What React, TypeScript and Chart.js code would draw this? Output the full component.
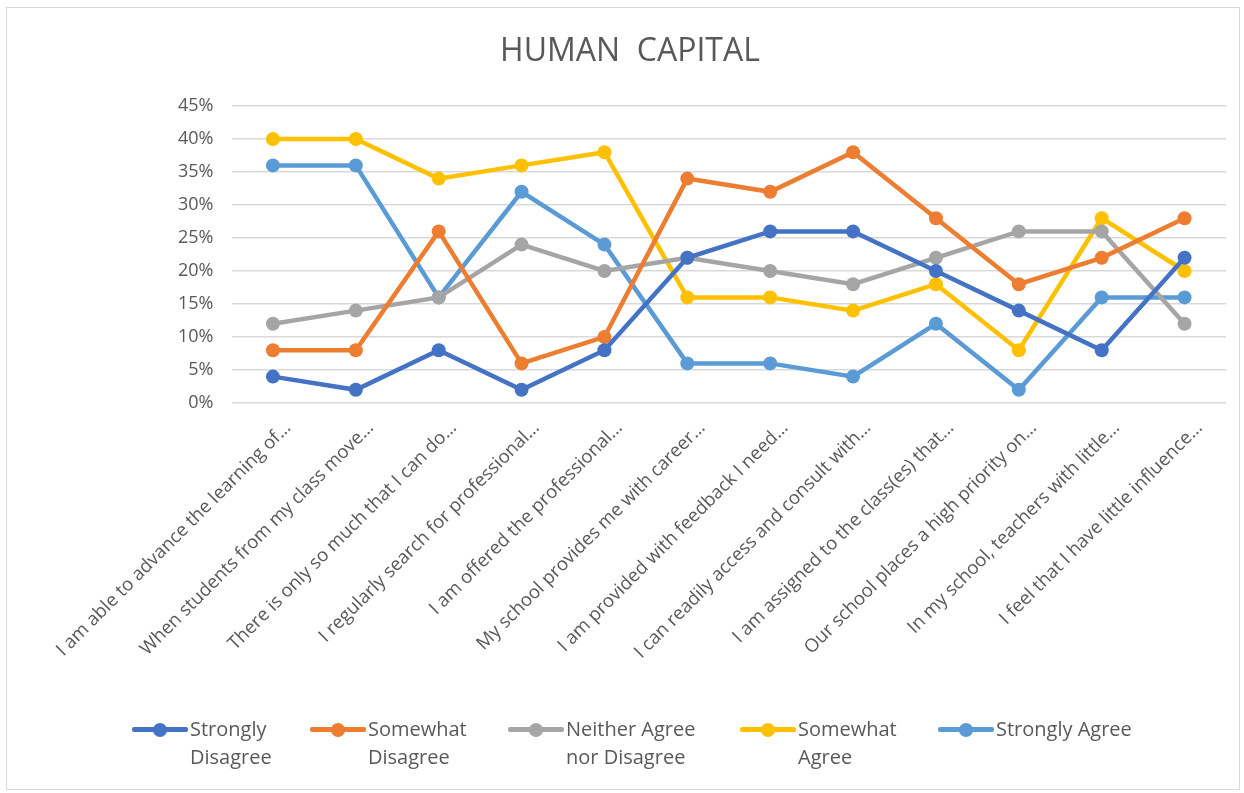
import React, { useEffect, useRef } from "react";
import { Chart, registerables } from "chart.js";

Chart.register(...registerables);

const TITLE = "HUMAN  CAPITAL";

const CATEGORIES = [
  "I am able to advance the learning of…",
  "When students from my class move…",
  "There is only so much that I can do…",
  "I regularly search for professional…",
  "I am offered the professional…",
  "My school provides me with career…",
  "I am provided with feedback I need…",
  "I can readily access and consult with…",
  "I am assigned to the class(es) that…",
  "Our school places a high priority on…",
  "In my school, teachers with little…",
  "I feel that I have little influence…",
];

const SERIES_NAMES = [
  "Strongly Disagree",
  "Somewhat Disagree",
  "Neither Agree nor Disagree",
  "Somewhat Agree",
  "Strongly Agree",
];

const STRONGLY_DISAGREE = [4, 2, 8, 2, 8, 22, 26, 26, 20, 14, 8, 22];
const SOMEWHAT_DISAGREE = [8, 8, 26, 6, 10, 34, 32, 38, 28, 18, 22, 28];
const NEITHER = [12, 14, 16, 24, 20, 22, 20, 18, 22, 26, 26, 12];
const SOMEWHAT_AGREE = [40, 40, 34, 36, 38, 16, 16, 14, 18, 8, 28, 20];
const STRONGLY_AGREE = [36, 36, 16, 32, 24, 6, 6, 4, 12, 2, 16, 16];

const SERIES_VALUES = [STRONGLY_DISAGREE, SOMEWHAT_DISAGREE, NEITHER, SOMEWHAT_AGREE, STRONGLY_AGREE];
const COLORS = ["#4472C4", "#ED7D31", "#A5A5A5", "#FFC000", "#5B9BD5"];

const Y_MIN = 0;
const Y_MAX = 45;
const Y_STEP = 5;

const FONT = "'Open Sans', sans-serif";
const TEXT_COLOR = "#595959";

// legend layout (styling only)
const LEGEND_ITEM_WIDTHS = [178, 198, 232, 198, 200];
const LEGEND_TEXT_WIDTHS = [110, 110, 145, 110, 180];

export default function App() {
  const canvasRef = useRef<HTMLCanvasElement | null>(null);

  useEffect(() => {
    if (!canvasRef.current) return;
    const chart = new Chart(canvasRef.current, {
      type: "line",
      data: {
        labels: CATEGORIES,
        datasets: SERIES_NAMES.map((name, i) => ({
          label: name,
          data: SERIES_VALUES[i],
          borderColor: COLORS[i],
          backgroundColor: COLORS[i],
          borderWidth: 4.5,
          pointRadius: 7,
          pointHoverRadius: 7,
          pointBorderWidth: 0,
          tension: 0,
          fill: false,
        })),
      },
      options: {
        animation: false,
        responsive: true,
        maintainAspectRatio: false,
        layout: { padding: { left: 27, right: 13, top: 0, bottom: 0 } },
        plugins: {
          legend: { display: false },
          tooltip: { enabled: false },
          title: {
            display: true,
            text: TITLE,
            color: TEXT_COLOR,
            font: { family: FONT, size: 32, weight: "normal" as any },
            padding: { top: 25, bottom: 34.6 },
          },
        },
        scales: {
          x: {
            offset: true,
            grid: { display: false },
            border: { display: false },
            ticks: {
              autoSkip: false,
              minRotation: 45,
              maxRotation: 45,
              padding: 6,
              labelOffset: 15,
              color: TEXT_COLOR,
              font: { family: FONT, size: 18.5 },
            },
            afterFit: (s: any) => {
              s.height = 386;
            },
          },
          y: {
            min: Y_MIN,
            max: Y_MAX,
            border: { display: false },
            grid: { color: "#d9d9d9", lineWidth: 1.5, drawTicks: false },
            ticks: {
              stepSize: Y_STEP,
              padding: 18,
              color: TEXT_COLOR,
              font: { family: FONT, size: 18 },
              callback: (v: any) => `${v}%`,
            },
            afterFit: (s: any) => {
              s.width = 197.5;
            },
          },
        },
      },
    });
    return () => chart.destroy();
  }, []);

  return (
    <div
      style={{
        position: "absolute",
        left: 6,
        top: 7,
        width: 1234,
        height: 783,
        border: "1px solid #d9d9d9",
        boxSizing: "border-box",
        background: "#fff",
      }}
    >
      <canvas ref={canvasRef} />
      <div
        style={{
          position: "absolute",
          left: 125,
          top: 707,
          display: "flex",
          fontFamily: FONT,
          fontSize: 20,
          color: TEXT_COLOR,
          lineHeight: "28px",
        }}
      >
        {SERIES_NAMES.map((name, i) => (
          <div key={name} style={{ display: "flex", alignItems: "flex-start", width: LEGEND_ITEM_WIDTHS[i] }}>
            <div style={{ position: "relative", width: 56, height: 28, flex: "none", marginRight: 2 }}>
              <div
                style={{
                  position: "absolute",
                  left: 0,
                  right: 0,
                  top: 12,
                  height: 4.5,
                  background: COLORS[i],
                  borderRadius: 2,
                }}
              />
              <div
                style={{
                  position: "absolute",
                  left: 21,
                  top: 7.5,
                  width: 14,
                  height: 14,
                  borderRadius: 7,
                  background: COLORS[i],
                }}
              />
            </div>
            <div style={{ width: LEGEND_TEXT_WIDTHS[i] }}>{name}</div>
          </div>
        ))}
      </div>
    </div>
  );
}
